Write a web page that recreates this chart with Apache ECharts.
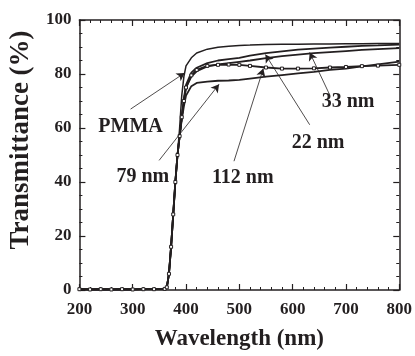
<!DOCTYPE html>
<html><head><meta charset="utf-8">
<script src="https://cdn.jsdelivr.net/npm/echarts@6/dist/echarts.min.js"></script>
<style>html,body{margin:0;padding:0;background:#fff}#c{width:415px;height:356px}</style>
</head><body><div id="c"></div>
<script>
var wavelength = [200,220,240,260,280,300,320,340,360,364,368,372,376,380,384,388,392,396,400,410,420,440,460,480,500,520,550,580,610,640,670,700,730,760,800];
var pmma   = [0.3,0.2,0.3,0.2,0.3,0.2,0.3,0.3,0.4,1,6,16,28,40,50,60,72,79,83,86,87.8,89.2,89.9,90.3,90.6,90.7,90.9,91,91,91.1,91.1,91.2,91.2,91.3,91.3];
var nm22   = [0.3,0.2,0.3,0.2,0.3,0.2,0.3,0.3,0.4,1,6,16,28,40,50,57,64,71,76,80.5,82.3,84,85,85.5,86,86.8,87.7,88.4,89,89.4,89.8,90.1,90.4,90.6,90.9];
var nm33   = [0.3,0.2,0.3,0.2,0.3,0.2,0.3,0.3,0.4,1,6,16,28,40,50,57,64,70,75,79,81,82.8,83.6,84,84.5,85,85.9,86.6,87.2,87.7,88.1,88.5,88.9,89.2,89.6];
var nm112  = [0.3,0.2,0.3,0.2,0.3,0.2,0.3,0.3,0.4,1,6,16,28,40,50,57,64,70,75,79.5,81.5,83,83.4,83.5,83.4,83,82.4,82,82,82.1,82.4,82.6,82.9,83.1,83.4];
var nm79   = [0.3,0.2,0.3,0.2,0.3,0.2,0.3,0.3,0.4,1,6,16,28,40,50,57,63,68,72,75.5,76.7,77.2,77.5,77.6,77.8,78.3,79,79.6,80.2,80.8,81.5,82,82.8,83.6,84.6];
var xTicks = [200,300,400,500,600,700,800];
var yTicks = [0,20,40,60,80,100];
// annotation arrows: [fromX, fromY, toX, toY]
var arrows = [[296,67,397.5,80.4],[349.5,48,462,76.2],[490,47.7,545,82],[632,61.2,549,87.2],[669,72.5,632,88]];
// labels: [text, x, y]
var labels = [['PMMA',296,60.4],['79 nm',319,42],['112 nm',506.5,41.6],['22 nm',647.7,54.4],['33 nm',704,69.8]];

var ink = '#231f20';
var font = 'Liberation Serif';
function pairs(v){ return wavelength.map(function(x,i){return [x,v[i]];}); }
function lineSeries(name, v, extra){
  var s = {name:name, type:'line', data:pairs(v), showSymbol:false, symbol:'none',
    lineStyle:{color:ink,width:1.8}, itemStyle:{color:ink}, z:3, animation:false};
  if(extra){ for(var k in extra) s[k]=extra[k]; }
  return s;
}
var axisCommon = {
  axisLine:{show:true,onZero:false,lineStyle:{color:ink,width:1.5}},
  axisTick:{show:true,inside:true,length:6,lineStyle:{color:ink,width:1.2}},
  minorTick:{show:true,length:3,lineStyle:{color:ink,width:1}},
  splitLine:{show:false}
};
function mk(base, extra){ var o = JSON.parse(JSON.stringify(axisCommon)); for(var k in base) o[k]=base[k]; if(extra) for(var k2 in extra) o[k2]=extra[k2]; return o; }

var chart = echarts.init(document.getElementById('c'), null, {renderer:'canvas'});
chart.setOption({
  animation:false,
  backgroundColor:'#fff',
  grid:{left:76,right:14,top:20,bottom:62},
  xAxis:[
    mk({type:'value',min:xTicks[0],max:xTicks[xTicks.length-1],interval:100,position:'bottom',
      minorTick:{show:true,splitNumber:5,length:3,lineStyle:{color:ink,width:1}},
      axisLabel:{color:ink,fontFamily:font,fontWeight:'bold',fontSize:17,margin:11},
      name:'Wavelength (nm)',nameLocation:'middle',nameGap:38,
      nameTextStyle:{color:ink,fontFamily:font,fontWeight:'bold',fontSize:23}}),
    mk({type:'value',min:200,max:800,interval:100,position:'top',
      minorTick:{show:true,splitNumber:5,length:3,lineStyle:{color:ink,width:1}},
      axisLabel:{show:false}})
  ],
  yAxis:[
    mk({type:'value',min:yTicks[0],max:yTicks[yTicks.length-1],interval:20,position:'left',
      minorTick:{show:true,splitNumber:4,length:3,lineStyle:{color:ink,width:1}},
      axisLabel:{color:ink,fontFamily:font,fontWeight:'bold',fontSize:17,margin:8},
      name:'Transmittance (%)',nameLocation:'middle',nameGap:44,
      nameTextStyle:{color:ink,fontFamily:font,fontWeight:'bold',fontSize:27,padding:[0,0,0,30]}}),
    mk({type:'value',min:0,max:100,interval:20,position:'right',
      minorTick:{show:true,splitNumber:4,length:3,lineStyle:{color:ink,width:1}},
      axisLabel:{show:false}})
  ],
  series:[
    lineSeries('PMMA', pmma, {lineStyle:{color:ink,width:1.5}}),
    lineSeries('22 nm', nm22),
    lineSeries('33 nm', nm33),
    lineSeries('112 nm', nm112, {showSymbol:true, symbol:'rect', symbolSize:3,
      itemStyle:{color:'#fff',borderColor:ink,borderWidth:1}}),
    lineSeries('79 nm', nm79),
    {type:'line', data:[], silent:true, animation:false,
      markLine:{silent:true, symbol:['none','arrow'], symbolSize:[7,8], animation:false,
        lineStyle:{color:ink,width:0.8,type:'solid'}, label:{show:false},
        data:arrows.map(function(a){return [{coord:[a[0],a[1]]},{coord:[a[2],a[3]]}];})},
      markPoint:{silent:true, symbol:'circle', symbolSize:0, animation:false,
        label:{show:true,position:'inside',color:ink,fontFamily:font,fontWeight:'bold',fontSize:20},
        data:labels.map(function(l){return {coord:[l[1],l[2]], value:l[0], label:{formatter:l[0]}};})}
    }
  ]
});
</script></body></html>
